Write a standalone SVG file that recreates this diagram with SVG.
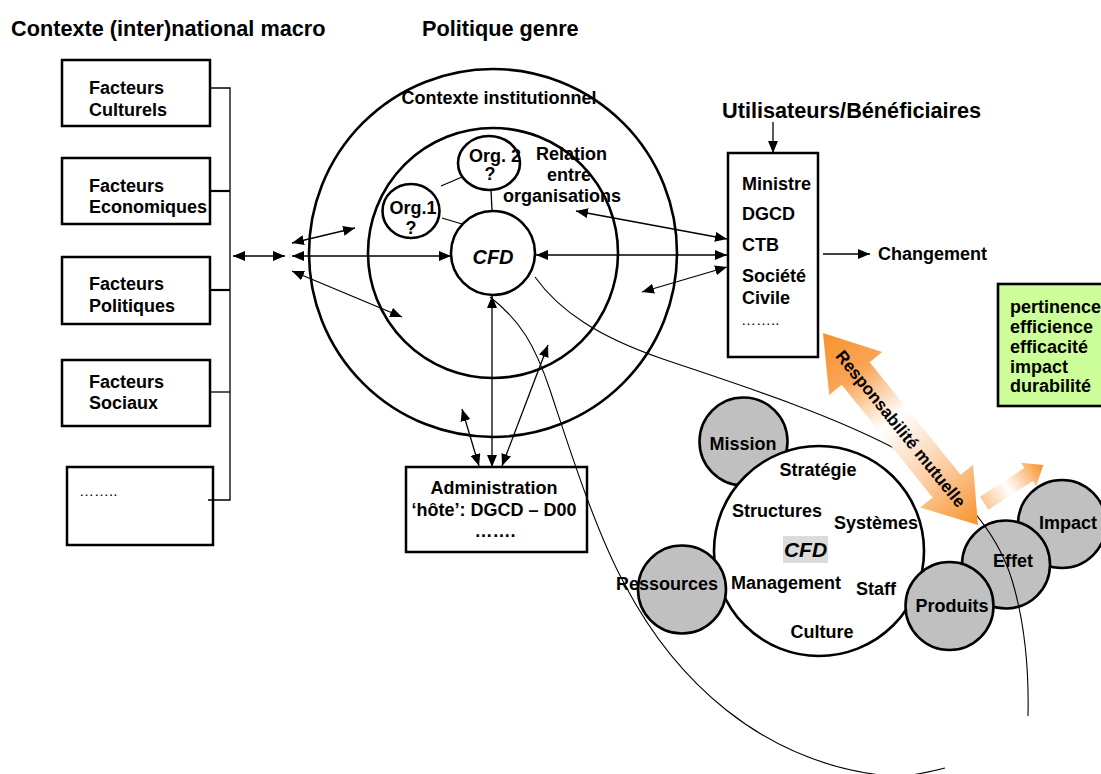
<svg xmlns="http://www.w3.org/2000/svg" width="1101" height="774" viewBox="0 0 1101 774">
<style>
text{font-family:"Liberation Sans",Arial,Helvetica,sans-serif;font-weight:bold;fill:#000}
.t{font-size:18px}
.h{font-size:21.7px}
.dots{font-size:15px;font-weight:normal}
.box{fill:#fff;stroke:#000;stroke-width:2.5}
.ring{fill:none;stroke:#000;stroke-width:2.6}
.wc{fill:#fff;stroke:#000;stroke-width:2.6}
.gc{fill:#c0c0c0;stroke:#000;stroke-width:2.6}
.ln{fill:none;stroke:#000;stroke-width:1.3}
.ar{fill:none;stroke:#000;stroke-width:1.3;marker-end:url(#ah)}
.da{fill:none;stroke:#000;stroke-width:1.3;marker-start:url(#ah);marker-end:url(#ah)}
.thin{fill:none;stroke:#000;stroke-width:1.1}
</style>
<defs>
<marker id="ah" viewBox="0 0 12 10" refX="12" refY="5" markerWidth="12" markerHeight="10" markerUnits="userSpaceOnUse" orient="auto-start-reverse"><path d="M0,0 L12,5 L0,10 z" fill="#000"/></marker>
<linearGradient id="gRM" gradientUnits="userSpaceOnUse" x1="823" y1="333" x2="978" y2="525">
<stop offset="0" stop-color="#F7922B"/><stop offset="0.22" stop-color="#F9A658"/><stop offset="0.45" stop-color="#FFFFFF"/><stop offset="0.72" stop-color="#FCCFA6"/><stop offset="1" stop-color="#F7922B"/>
</linearGradient>
<linearGradient id="gIm" gradientUnits="userSpaceOnUse" x1="984" y1="503" x2="1043" y2="465">
<stop offset="0" stop-color="#FBC795"/><stop offset="0.4" stop-color="#FFFFFF"/><stop offset="1" stop-color="#F7922B"/>
</linearGradient>
</defs>
<rect width="1101" height="774" fill="#fff"/>

<g id="titles">
<text class="h" x="11" y="36">Contexte (inter)national macro</text>
<text class="h" x="422" y="36">Politique genre</text>
</g>

<g id="facteurs-culturels"><rect class="box" x="62" y="60" width="148" height="66"/><text class="t" x="89" y="94">Facteurs</text><text class="t" x="89" y="116">Culturels</text></g>
<g id="facteurs-economiques"><rect class="box" x="62" y="158" width="148" height="66"/><text class="t" x="89" y="192">Facteurs</text><text class="t" x="89" y="213">Economiques</text></g>
<g id="facteurs-politiques"><rect class="box" x="62" y="257" width="148" height="67"/><text class="t" x="89" y="290">Facteurs</text><text class="t" x="89" y="312">Politiques</text></g>
<g id="facteurs-sociaux"><rect class="box" x="62" y="360" width="148" height="66"/><text class="t" x="89" y="388">Facteurs</text><text class="t" x="89" y="409">Sociaux</text></g>
<g id="facteurs-autres"><rect class="box" x="67" y="467" width="146" height="78"/><text class="dots" x="79" y="496">……..</text></g>

<g id="contexte-institutionnel"><circle class="ring" cx="493" cy="253" r="184"/><text class="t" x="499" y="104" text-anchor="middle">Contexte institutionnel</text></g>
<g id="relation-organisations"><circle class="ring" cx="493" cy="253" r="125"/><text class="t" x="536" y="160">Relation</text><text class="t" x="547" y="181">entre</text><text class="t" x="503" y="202">organisations</text></g>

<g id="connectors">
<polyline class="ln" points="209,88 230,88 230,500 208,500"/>
<line x1="210" y1="191" x2="230" y2="191" stroke="#000" stroke-width="2.2"/>
<line x1="210" y1="290" x2="230" y2="290" stroke="#000" stroke-width="2.2"/>
<line class="ln" x1="210" y1="392" x2="230" y2="392"/>
<line class="da" x1="233" y1="256" x2="285" y2="256"/>
<line class="da" x1="292" y1="243" x2="355" y2="228"/>
<line class="da" x1="292" y1="256" x2="451" y2="256"/>
<line class="da" x1="292" y1="271" x2="402" y2="317"/>
<line class="ln" x1="441" y1="186" x2="462" y2="177"/>
<line class="ln" x1="491" y1="189" x2="492" y2="211"/>
<line class="ln" x1="442" y1="218" x2="462" y2="224"/>
<line class="da" x1="576" y1="211" x2="727" y2="239"/>
<line class="da" x1="536" y1="255" x2="727" y2="255"/>
<line class="da" x1="642" y1="292" x2="727" y2="267"/>
<line class="da" x1="492" y1="296" x2="492" y2="467"/>
<line class="da" x1="462" y1="409" x2="479" y2="466"/>
<line class="da" x1="548" y1="345" x2="502" y2="466"/>
<line class="ar" x1="773" y1="122" x2="773" y2="153"/>
<line class="ar" x1="823" y1="254" x2="870" y2="254"/>
</g>

<g id="cfd"><circle class="wc" cx="493" cy="253" r="42"/><text x="493" y="264" text-anchor="middle" font-size="20" font-style="italic">CFD</text></g>
<g id="org1"><ellipse class="wc" cx="411" cy="211" rx="28.5" ry="27"/><text class="t" x="413" y="214" text-anchor="middle">Org.1</text><text class="t" x="411" y="234" text-anchor="middle">?</text></g>
<g id="org2"><ellipse class="wc" cx="489" cy="163" rx="31" ry="27"/><text class="t" x="495" y="162" text-anchor="middle">Org. 2</text><text class="t" x="490" y="180" text-anchor="middle">?</text></g>

<g id="administration"><rect class="box" x="406" y="467" width="181" height="85"/><text class="t" x="494" y="494" text-anchor="middle">Administration</text><text class="t" x="494" y="516" text-anchor="middle">‘hôte’: DGCD – D00</text><text class="t" x="495" y="537" text-anchor="middle">…….</text></g>

<g id="utilisateurs"><text class="h" x="722" y="118">Utilisateurs/Bénéficiaires</text><rect class="box" x="728" y="153" width="90" height="204"/><text class="t" x="742" y="190">Ministre</text><text class="t" x="742" y="220">DGCD</text><text class="t" x="742" y="251">CTB</text><text class="t" x="742" y="282">Société</text><text class="t" x="742" y="304">Civile</text><text class="dots" x="741" y="325" font-size="14">……..</text></g>

<g id="changement"><text class="t" x="878" y="260">Changement</text></g>

<g id="criteres"><rect x="998" y="284" width="110" height="122" fill="#CCFF99" stroke="#000" stroke-width="2.6"/><text class="t" x="1010" y="313">pertinence</text><text class="t" x="1010" y="333">efficience</text><text class="t" x="1010" y="353">efficacité</text><text class="t" x="1010" y="373">impact</text><text class="t" x="1010" y="392">durabilité</text></g>

<g id="mission"><circle class="gc" cx="743.5" cy="441.5" r="44"/><text class="t" x="743" y="450" text-anchor="middle">Mission</text></g>
<g id="organisation-cfd"><circle class="wc" cx="819" cy="551" r="105"/>
<text class="t" x="818" y="476" text-anchor="middle">Stratégie</text>
<text class="t" x="777" y="517" text-anchor="middle">Structures</text>
<text class="t" x="876" y="529" text-anchor="middle">Systèmes</text>
<rect x="783" y="536" width="45" height="27" fill="#DCDCDC"/>
<text x="805.5" y="557" text-anchor="middle" font-size="21" font-style="italic">CFD</text>
<text class="t" x="786" y="589" text-anchor="middle">Management</text>
<text class="t" x="876" y="595" text-anchor="middle">Staff</text>
<text class="t" x="822" y="638" text-anchor="middle">Culture</text>
</g>
<g id="ressources"><circle class="gc" cx="682" cy="589.5" r="44"/><text class="t" x="667" y="590" text-anchor="middle">Ressources</text></g>
<g id="impact"><circle class="gc" cx="1062" cy="524" r="44"/><text class="t" x="1068" y="529" text-anchor="middle">Impact</text></g>
<g id="effet"><circle class="gc" cx="1006" cy="564.5" r="44"/><text class="t" x="1013" y="567" text-anchor="middle">Effet</text></g>
<g id="produits"><circle class="gc" cx="949.5" cy="606" r="44"/><text class="t" x="952" y="612" text-anchor="middle">Produits</text></g>

<g id="curves">
<path class="thin" d="M535,277 C560,312 600,337 660,358 C730,382 820,410 890,446 C950,478 995,525 1012,580 C1024,620 1029,670 1028,716"/>
<path class="thin" d="M490,297 C520,320 535,345 550,390 C570,450 595,530 625,585 C675,680 760,760 880,775 C905,778 925,773 945,768"/>
</g>

<g id="responsabilite-mutuelle">
<polygon points="823,333 882.2,352.1 869.7,362.2 960.6,474.8 973.1,464.7 978,525 920.1,507.5 932.6,497.4 841.7,384.8 829.2,394.9" fill="url(#gRM)"/>
<text x="900.5" y="429" font-size="17" text-anchor="middle" dominant-baseline="central" transform="rotate(51.1 900.5 429)">Responsabilité mutuelle</text>
</g>
<g id="vers-impact"><polygon points="1043.3,465 1036.2,486.2 1032.8,481 988.4,509.8 980,496.8 1024.4,468 1021,462.8" fill="url(#gIm)"/></g>
</svg>
